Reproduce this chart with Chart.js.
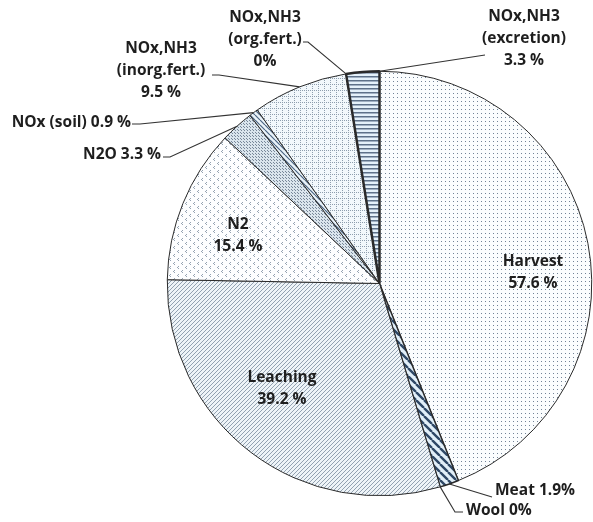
<!DOCTYPE html>
<html>
<head>
<meta charset="utf-8">
<script src="https://cdn.jsdelivr.net/npm/chart.js@4.4.0/dist/chart.umd.min.js"></script>
<style>
  html, body { margin: 0; padding: 0; background: #fff; }
  #wrap { width: 593px; height: 522px; }
</style>
</head>
<body>
<div id="wrap"><canvas id="pie" width="593" height="522"></canvas></div>
<script>
// data (slice sizes follow these values)
const categories = ['Harvest', 'Meat', 'Wool', 'Leaching', 'N2', 'N2O', 'NOx (soil)',
  'NOx,NH3 (inorg.fert.)', 'NOx,NH3 (org.fert.)', 'NOx,NH3 (excretion)'];
const shares = [57.6, 1.9, 0, 39.2, 15.4, 3.3, 0.9, 9.5, 0, 3.3];
const shareText = ['57.6 %', '1.9%', '0%', '39.2 %', '15.4 %', '3.3 %', '0.9 %', '9.5 %', '0%', '3.3 %'];

// label layout (text lines, positions, leader lines)
const labelLayout = [
  { lines: ['Harvest', shareText[0]], x: 533, y: 262, align: 'center' },
  { lines: ['Meat ' + shareText[1]], x: 495, y: 491, align: 'left', leader: [[492, 497]] },
  { lines: ['Wool ' + shareText[2]], x: 466, y: 511, align: 'left', leader: [[455, 512], [463, 512]] },
  { lines: ['Leaching', shareText[3]], x: 282, y: 378, align: 'center' },
  { lines: ['N2', shareText[4]], x: 238, y: 225, align: 'center' },
  { lines: ['N2O ' + shareText[5]], x: 161, y: 155, align: 'right', leader: [[170, 157], [163, 157]] },
  { lines: ['NOx (soil) ' + shareText[6]], x: 131, y: 123, align: 'right', leader: [[140, 124], [132, 124]] },
  { lines: ['NOx,NH3', '(inorg.fert.)', shareText[7]], x: 161, y: 49, align: 'center', leader: [[219, 75], [212, 75]] },
  { lines: ['NOx,NH3', '(org.fert.)', shareText[8]], x: 265, y: 18, align: 'center', leader: [[308, 42], [303, 42]] },
  { lines: ['NOx,NH3', '(excretion)', shareText[9]], x: 524, y: 17, align: 'center', leader: [[485, 55]], anchor: 'end' }
];

function makePattern(w, h, bg, paint) {
  const c = document.createElement('canvas');
  c.width = w; c.height = h;
  const g = c.getContext('2d');
  g.fillStyle = bg;
  g.fillRect(0, 0, w, h);
  paint(g);
  return document.createElement('canvas').getContext('2d').createPattern(c, 'repeat');
}

const patDots = makePattern(4, 4, '#fbfdfe', g => {
  g.fillStyle = '#728397'; g.fillRect(1, 1, 1, 1);
});
const patMeat = makePattern(8, 8, '#e2eff8', g => {
  g.strokeStyle = '#2f4866'; g.lineWidth = 2.4;
  g.beginPath();
  for (let k = -8; k <= 16; k += 8) { g.moveTo(k, 0); g.lineTo(k + 8, 8); }
  g.stroke();
});
const patLeach = makePattern(4, 4, '#eef4f8', g => {
  g.strokeStyle = '#8797a8'; g.lineWidth = 0.9;
  g.beginPath();
  for (let k = -4; k <= 8; k += 4) { g.moveTo(k, 4); g.lineTo(k + 4, 0); }
  g.stroke();
});
const patChevron = makePattern(8, 8, '#fdfeff', g => {
  g.fillStyle = '#95a3b2';
  g.fillRect(2, 2, 1, 1); g.fillRect(1, 3, 1, 1); g.fillRect(2, 4, 1, 1);
  g.fillRect(6, 6, 1, 1); g.fillRect(5, 7, 1, 1); g.fillRect(6, 0, 1, 1);
});
const patDense = makePattern(3, 3, '#dae5ed', g => {
  g.fillStyle = '#778799'; g.fillRect(1, 1, 1, 1); g.fillRect(0, 0, 1, 1);
});
const patSoil = makePattern(5, 5, '#eaf3f9', g => {
  g.strokeStyle = '#4a6482'; g.lineWidth = 1.2;
  g.beginPath();
  for (let k = -5; k <= 10; k += 5) { g.moveTo(k, 0); g.lineTo(k + 5, 5); }
  g.stroke();
});
const patGrid = makePattern(6, 6, '#f2f8fc', g => {
  g.fillStyle = '#8e9eae';
  for (let i = 0; i < 6; i += 2) { g.fillRect(i, 0, 1, 1); g.fillRect(0, i, 1, 1); }
});
const patStripes = makePattern(4, 4, '#e4f1fa', g => {
  g.fillStyle = '#5d7189'; g.fillRect(0, 0, 4, 1.5);
});

const sliceFills = [patDots, patMeat, patMeat, patLeach, patChevron, patDense, patSoil, patGrid, patGrid, patStripes];
const sliceBorders = [1, 1.5, 1, 1, 1, 1, 1, 1, 1, 2.5];

const labelPlugin = {
  id: 'labelPlugin',
  afterDraw(chart) {
    const ctx = chart.ctx;
    const arcs = chart.getDatasetMeta(0).data;
    ctx.save();
    ctx.strokeStyle = '#333';
    ctx.lineWidth = 1.1;
    ctx.fillStyle = '#1e1e1e';
    ctx.font = 'bold 15.5px "Open Sans"';
    ctx.textBaseline = 'middle';
    labelLayout.forEach((lab, i) => {
      const a = arcs[i];
      if (lab.leader) {
        const p = a.getProps(['x', 'y', 'startAngle', 'endAngle', 'outerRadius'], true);
        const ang = lab.anchor === 'end' ? p.endAngle : (p.startAngle + p.endAngle) / 2;
        const ax = p.x + Math.cos(ang) * p.outerRadius;
        const ay = p.y + Math.sin(ang) * p.outerRadius;
        ctx.beginPath();
        ctx.moveTo(ax, ay);
        lab.leader.forEach(pt => ctx.lineTo(pt[0], pt[1]));
        ctx.stroke();
      }
      ctx.textAlign = lab.align;
      lab.lines.forEach((t, k) => ctx.fillText(t, lab.x, lab.y + k * 22));
    });
    ctx.restore();
  }
};

new Chart(document.getElementById('pie'), {
  type: 'pie',
  data: {
    labels: categories,
    datasets: [{
      data: shares,
      backgroundColor: sliceFills,
      borderColor: '#2a2a2a',
      borderWidth: sliceBorders
    }]
  },
  options: {
    responsive: false,
    animation: false,
    layout: { padding: { left: 166, top: 70, right: 0, bottom: 25 } },
    plugins: {
      legend: { display: false },
      tooltip: { enabled: false }
    }
  },
  plugins: [labelPlugin]
});
</script>
</body>
</html>
